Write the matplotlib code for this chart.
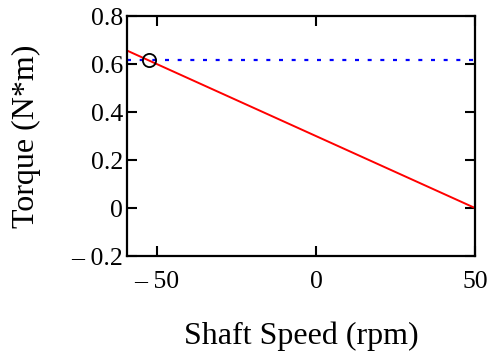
import matplotlib.pyplot as plt

# Datos
speed = [-59.4, 50.0]          # rpm
torque = [0.656, 0.0]          # N*m
load_torque = 0.615            # línea de carga
op_speed = -52.5               # punto de operación
op_torque = 0.615

xticks = [-50, 0, 50]
xticklabels = ['\u2013 50', '0', '50']
yticks = [-0.2, 0, 0.2, 0.4, 0.6, 0.8]
yticklabels = ['\u2013 0.2', '0', '0.2', '0.4', '0.6', '0.8']

plt.rcParams['font.family'] = ['Liberation Serif', 'DejaVu Serif']

fig = plt.figure(figsize=(4.93, 3.54), dpi=100)
ax = fig.add_axes([0.2576, 0.2768, 0.7059, 0.678])

ax.plot(speed, torque, color='red', lw=1.4)
ax.axhline(load_torque, color='blue', lw=1.6, linestyle=(0, (1.8, 3.9)))
ax.plot(op_speed, op_torque, 'o', mfc='none', mec='black', mew=1.3, ms=9.5)

ax.set_xlim(-59.4, 50)
ax.set_ylim(-0.2, 0.8)
ax.set_xticks(xticks)
ax.set_xticklabels(xticklabels)
ax.set_yticks(yticks)
ax.set_yticklabels(yticklabels)

for s in ax.spines.values():
    s.set_linewidth(1.6)
ax.tick_params(direction='in', length=7.5, width=1.5, top=True, right=True,
               labelsize=18.5)
ax.tick_params(axis='x', pad=11)
ax.tick_params(axis='y', pad=3)

ax.set_xlabel('Shaft Speed (rpm)', fontsize=23, labelpad=20)
ax.set_ylabel('Torque (N*m)', fontsize=23, labelpad=22)

fig.savefig('out.png', dpi=100)
